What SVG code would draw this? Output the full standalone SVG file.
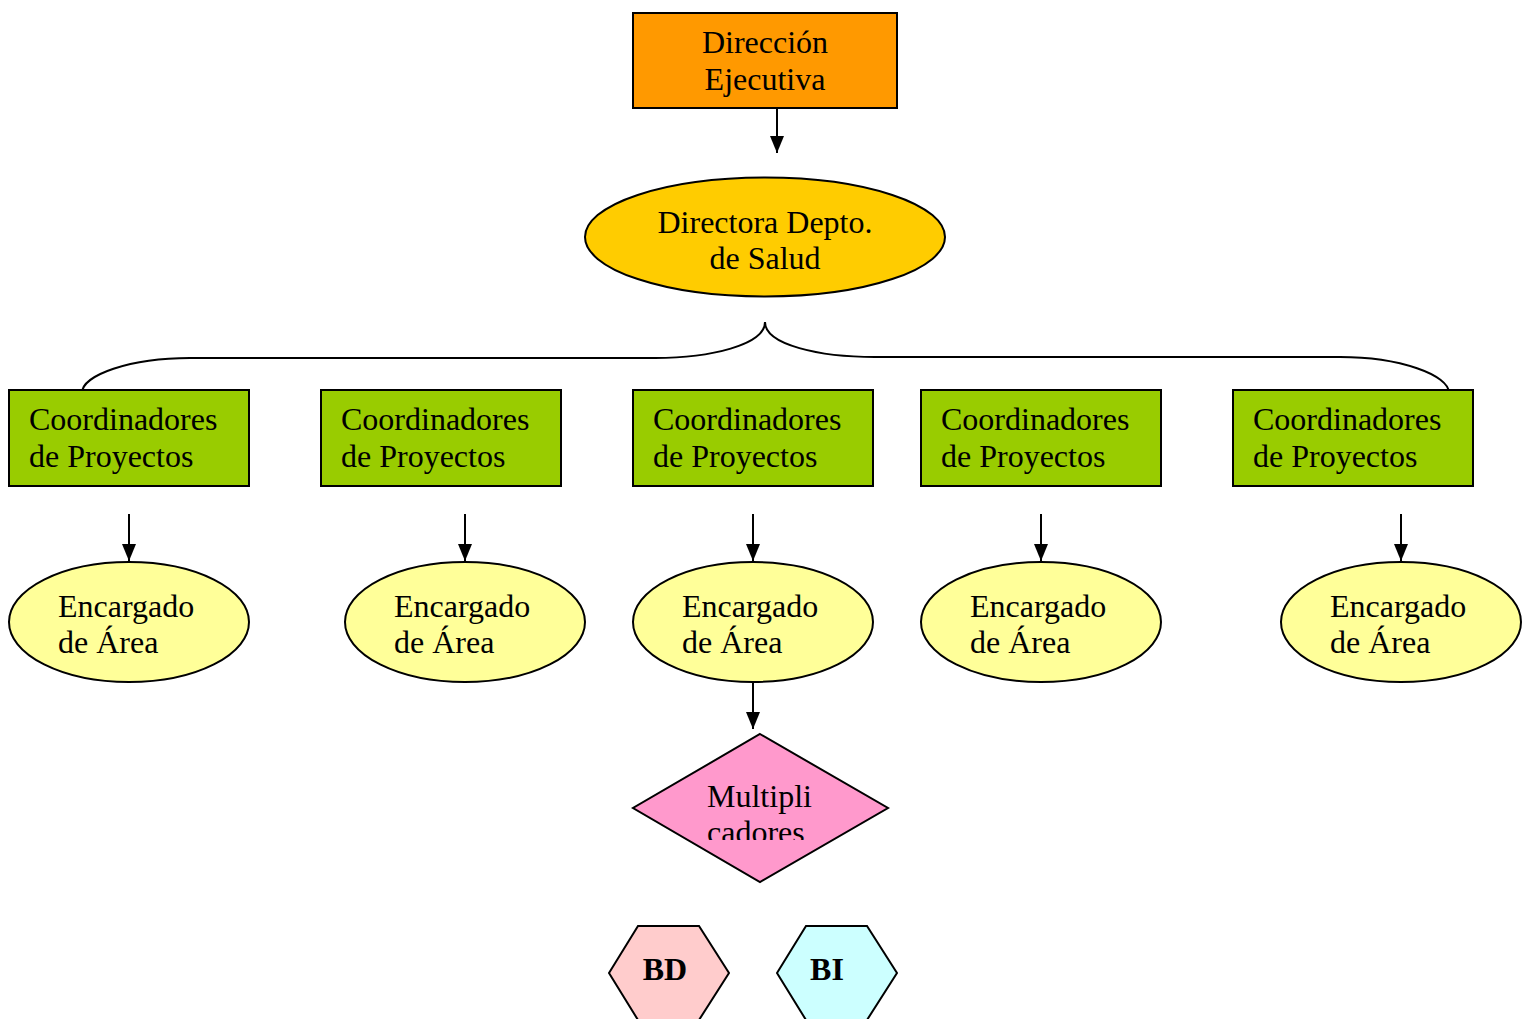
<svg xmlns="http://www.w3.org/2000/svg" width="1531" height="1019" viewBox="0 0 1531 1019">
<defs>
<style>
.s{stroke:#000;stroke-width:2}
text{font-family:"Liberation Serif","Times New Roman",serif;font-size:32px;fill:#000}
.c{text-anchor:middle}
.b{font-weight:bold}
.ln{fill:none;stroke:#000;stroke-width:2}
</style>
<marker id="ah" viewBox="0 0 17 14" refX="17" refY="7" markerWidth="17" markerHeight="14" markerUnits="userSpaceOnUse" orient="auto">
<path d="M0,0 L17,7 L0,14 z" fill="#000"/>
</marker>
<clipPath id="dclip"><rect x="600" y="730" width="320" height="110"/></clipPath>
</defs>
<rect width="1531" height="1019" fill="#fff"/>
<g id="connectors">
<line class="ln" x1="777" y1="108" x2="777" y2="153" marker-end="url(#ah)"/>
<path class="ln" d="M765,322 C765,345 710,358 655,358 L190,358 C130,358 82,375 82,393"/>
<path class="ln" d="M765,322 C765,345 820,357 875,357 L1340,357 C1400,357 1449,375 1449,393"/>
<line class="ln" x1="129" y1="514" x2="129" y2="561" marker-end="url(#ah)"/>
<line class="ln" x1="465" y1="514" x2="465" y2="561" marker-end="url(#ah)"/>
<line class="ln" x1="753" y1="514" x2="753" y2="561" marker-end="url(#ah)"/>
<line class="ln" x1="1041" y1="514" x2="1041" y2="561" marker-end="url(#ah)"/>
<line class="ln" x1="1401" y1="514" x2="1401" y2="561" marker-end="url(#ah)"/>
<line class="ln" x1="753" y1="682" x2="753" y2="729" marker-end="url(#ah)"/>
</g>
<g id="direccion">
<rect class="s" x="633" y="13" width="264" height="95" fill="#FF9900"/>
<text class="c" x="765" y="53">Dirección</text>
<text class="c" x="765" y="90">Ejecutiva</text>
</g>
<g id="directora">
<ellipse class="s" cx="765" cy="237" rx="180" ry="59.5" fill="#FFCC00"/>
<text class="c" x="765" y="233">Directora Depto.</text>
<text class="c" x="765" y="269">de Salud</text>
</g>
<g id="coord1"><rect class="s" x="9" y="390" width="240" height="96" fill="#99CC00"/><text x="29" y="430">Coordinadores</text><text x="29" y="467">de Proyectos</text></g>
<g id="coord2"><rect class="s" x="321" y="390" width="240" height="96" fill="#99CC00"/><text x="341" y="430">Coordinadores</text><text x="341" y="467">de Proyectos</text></g>
<g id="coord3"><rect class="s" x="633" y="390" width="240" height="96" fill="#99CC00"/><text x="653" y="430">Coordinadores</text><text x="653" y="467">de Proyectos</text></g>
<g id="coord4"><rect class="s" x="921" y="390" width="240" height="96" fill="#99CC00"/><text x="941" y="430">Coordinadores</text><text x="941" y="467">de Proyectos</text></g>
<g id="coord5"><rect class="s" x="1233" y="390" width="240" height="96" fill="#99CC00"/><text x="1253" y="430">Coordinadores</text><text x="1253" y="467">de Proyectos</text></g>
<g id="enc1"><ellipse class="s" cx="129" cy="622" rx="120" ry="60" fill="#FFFF99"/><text x="58" y="617">Encargado</text><text x="58" y="653">de Área</text></g>
<g id="enc2"><ellipse class="s" cx="465" cy="622" rx="120" ry="60" fill="#FFFF99"/><text x="394" y="617">Encargado</text><text x="394" y="653">de Área</text></g>
<g id="enc3"><ellipse class="s" cx="753" cy="622" rx="120" ry="60" fill="#FFFF99"/><text x="682" y="617">Encargado</text><text x="682" y="653">de Área</text></g>
<g id="enc4"><ellipse class="s" cx="1041" cy="622" rx="120" ry="60" fill="#FFFF99"/><text x="970" y="617">Encargado</text><text x="970" y="653">de Área</text></g>
<g id="enc5"><ellipse class="s" cx="1401" cy="622" rx="120" ry="60" fill="#FFFF99"/><text x="1330" y="617">Encargado</text><text x="1330" y="653">de Área</text></g>
<g id="multiplicadores">
<polygon class="s" points="760,734 888,808 760,882 633,808" fill="#FF99CC"/>
<g clip-path="url(#dclip)"><text x="707" y="807">Multipli</text><text x="707" y="843">cadores</text></g>
</g>
<g id="bd">
<polygon class="s" points="609,973 638,926 699,926 729,973 699,1020 638,1020" fill="#FFCCCC"/>
<text class="c b" x="665" y="980">BD</text>
</g>
<g id="bi">
<polygon class="s" points="777,973 806,926 867,926 897,973 867,1020 806,1020" fill="#CCFFFF"/>
<text class="c b" x="827" y="980">BI</text>
</g>
</svg>
